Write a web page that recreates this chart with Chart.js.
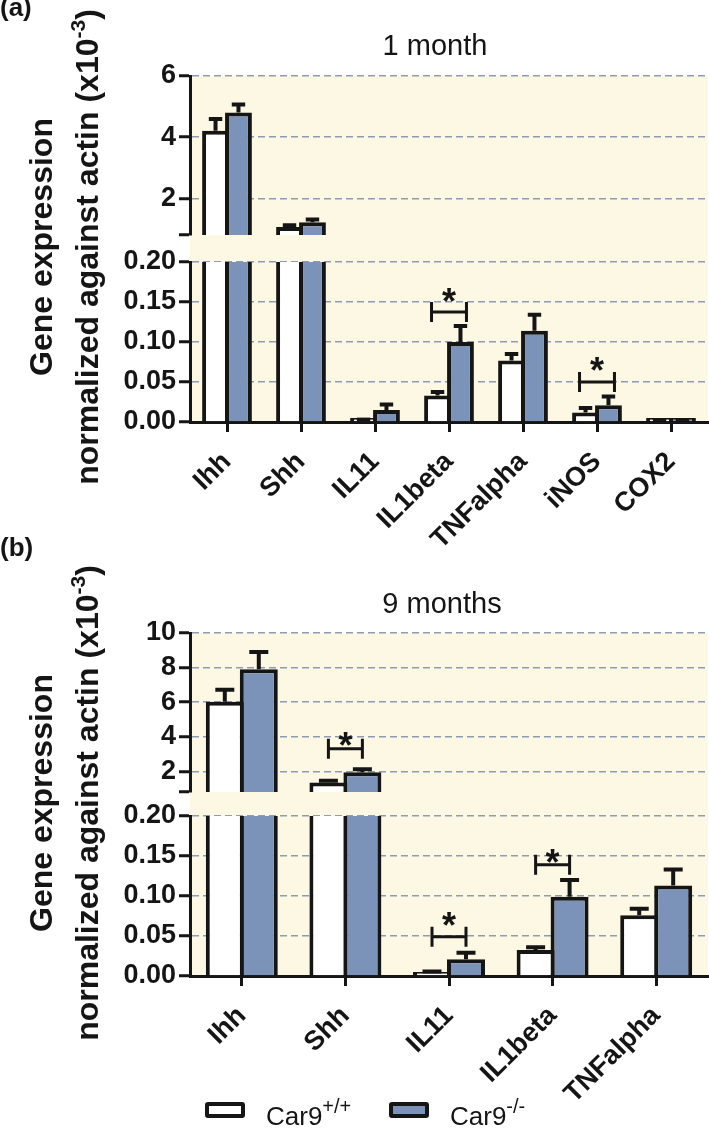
<!DOCTYPE html>
<html>
<head>
<meta charset="utf-8">
<script src="https://cdn.jsdelivr.net/npm/chart.js@4.4.1/dist/chart.umd.min.js"></script>
<style>
  body { margin: 0; background: #fff; font-family: "Liberation Sans", Arial, Helvetica, sans-serif; }
  #page { position: relative; width: 709px; height: 1131px; overflow: hidden; }
  canvas { position: absolute; left: 0; }
  .txt { position: absolute; color: #151515; white-space: nowrap; }
  .panel { font-weight: bold; font-size: 26px; line-height: 26px; }
  .title { font-size: 29px; line-height: 29px; width: 300px; text-align: center; }
  .ytitle { font-weight: bold; font-size: 32px; line-height: 46px; width: 560px; height: 92px;
            text-align: center; transform: rotate(-90deg); }
  .ytitle sup { font-size: 21px; line-height: 0; vertical-align: 13px; }
  .key { position: absolute; width: 40px; height: 16px; box-sizing: border-box;
         border: 4px solid #151515; border-radius: 3px; }
  .keytxt { font-size: 26px; line-height: 26px; }
  .keytxt sup { font-size: 20px; line-height: 0; vertical-align: 12px; }
</style>
</head>
<body>
<div id="page">
  <canvas id="chartA" width="709" height="562" style="top:0"></canvas>
  <canvas id="chartB" width="709" height="591" style="top:540px"></canvas>

  <div class="txt panel" style="left:0; top:-6px">(a)</div>
  <div class="txt panel" style="left:0; top:534px">(b)</div>
  <div class="txt title" style="left:285px; top:31px">1 month</div>
  <div class="txt title" style="left:292px; top:589px">9 months</div>
  <div class="txt ytitle" style="left:-216px; top:201px">Gene expression<br>normalized against actin (x10<sup>-3</sup>)</div>
  <div class="txt ytitle" style="left:-216px; top:757px">Gene expression<br>normalized against actin (x10<sup>-3</sup>)</div>

  <div class="key" style="left:205px; top:1102px; background:#fff"></div>
  <div class="txt keytxt" style="left:266px; top:1103px">Car9<sup>+/+</sup></div>
  <div class="key" style="left:389px; top:1102px; background:#7b93b8"></div>
  <div class="txt keytxt" style="left:450px; top:1103px">Car9<sup>-/-</sup></div>
</div>

<script>
// panel (a): 1 month
const catsA = ["Ihh", "Shh", "IL11", "IL1beta", "TNFalpha", "iNOS", "COX2"];
const wtA = [4.21, 1.06, 0.002, 0.033, 0.077, 0.012, 0.001];
const wtErrA = [0.38, 0.06, 0.001, 0.0045, 0.008, 0.0055, 0.0005];
const koA = [4.81, 1.22, 0.015, 0.100, 0.114, 0.021, 0.001];
const koErrA = [0.26, 0.09, 0.007, 0.020, 0.020, 0.011, 0.0005];
const topTicksA = [2, 4, 6];
const sigCatsA = ["IL1beta", "iNOS"];
const sigAxisA = ["yBot", "yBot"];
const sigLevelA = [0.1375, 0.05];
const starLevelA = [0.161, 0.075];

// panel (b): 9 months
const catsB = ["Ihh", "Shh", "IL11", "IL1beta", "TNFalpha"];
const wtB = [6.02, 1.35, 0.004, 0.0325, 0.076];
const wtErrB = [0.70, 0.10, 0.0015, 0.0035, 0.008];
const koB = [7.90, 1.95, 0.021, 0.099, 0.113];
const koErrB = [1.00, 0.17, 0.008, 0.021, 0.020];
const topTicksB = [2, 4, 6, 8, 10];
const sigCatsB = ["Shh", "IL11", "IL1beta"];
const sigAxisB = ["yTop", "yBot", "yBot"];
const sigLevelB = [3.3, 0.049, 0.139];
const starLevelB = [4.0, 0.074, 0.153];

// lower segment of the broken axis
const lowTicks = [0, 0.05, 0.10, 0.15, 0.20];
const breakAt = 0.8;

const ink = "#151515";
const blue = "#7b93b8";
const cream = "#fdf8e3";
const dashColor = "#8e9cb3";
const fontFam = '"Liberation Sans", Arial, Helvetica, sans-serif';

Chart.defaults.font.family = fontFam;
Chart.defaults.color = ink;

const panelBg = {
  id: "panelBg",
  beforeDraw(chart) {
    const {ctx, chartArea: a} = chart;
    ctx.save();
    ctx.fillStyle = cream;
    ctx.fillRect(a.left, a.top, a.width, a.height);
    ctx.restore();
  }
};

// each dataset only shows inside its own axis segment, error bars drawn on top
const segmentClip = {
  id: "segmentClip",
  beforeDatasetDraw(chart, args) {
    const ys = chart.scales[args.meta.yAxisID];
    const a = chart.chartArea;
    const ctx = chart.ctx;
    ctx.save();
    ctx.beginPath();
    ctx.rect(a.left, ys.top, a.width, ys.bottom - ys.top);
    ctx.clip();
  },
  afterDatasetDraw(chart, args) {
    const ctx = chart.ctx;
    const ds = chart.data.datasets[args.index];
    const ys = chart.scales[args.meta.yAxisID];
    ctx.strokeStyle = ink;
    ctx.lineWidth = 4;
    args.meta.data.forEach((bar, i) => {
      const v = ds.data[i], e = ds.errors[i];
      if (v == null || !e) return;
      const yErr = ys.getPixelForValue(v + e);
      const half = bar.width / 4;
      ctx.beginPath();
      ctx.moveTo(bar.x, Math.max(bar.y, yErr));
      ctx.lineTo(bar.x, yErr);
      ctx.moveTo(bar.x - half, yErr);
      ctx.lineTo(bar.x + half, yErr);
      ctx.stroke();
    });
    ctx.restore();
  }
};

function sigMarks(cats, axes, levels, stars, spread) {
  return {
    id: "sigMarks",
    afterDatasetsDraw(chart) {
      const ctx = chart.ctx;
      const wt = chart.getDatasetMeta(0), ko = chart.getDatasetMeta(1);
      cats.forEach((c, k) => {
        const i = chart.data.labels.indexOf(c);
        const ys = chart.scales[axes[k]];
        const y = ys.getPixelForValue(levels[k]);
        const x1 = wt.data[i].x - spread, x2 = ko.data[i].x + spread;
        ctx.save();
        ctx.strokeStyle = ink;
        ctx.lineWidth = 3;
        ctx.beginPath();
        ctx.moveTo(x1, y); ctx.lineTo(x2, y);
        ctx.moveTo(x1, y - 10); ctx.lineTo(x1, y + 10);
        ctx.moveTo(x2, y - 10); ctx.lineTo(x2, y + 10);
        ctx.stroke();
        ctx.fillStyle = ink;
        ctx.font = "bold 36px " + fontFam;
        ctx.textAlign = "center";
        ctx.textBaseline = "alphabetic";
        ctx.fillText("*", (x1 + x2) / 2, ys.getPixelForValue(stars[k]) + 21);
        ctx.restore();
      });
    }
  };
}

function makePanel(id, cats, wt, wtErr, ko, koErr, topTicks, sig, lay) {
  const bars = (label, data, errors, fill, axis, stack, minLen) => ({
    label, data, errors, yAxisID: axis, stack,
    backgroundColor: fill, borderColor: ink, borderWidth: 4,
    borderSkipped: "start", minBarLength: minLen,
    barPercentage: lay.barPct, categoryPercentage: lay.catPct
  });
  const yCommon = {
    type: "linear", position: "left", stack: "y", stacked: false,
    ticks: {font: {size: 27, weight: "bold"}, color: ink, padding: 3, autoSkip: false},
    border: {display: true, color: ink, width: 3, dash: [7, 4]},
    afterFit(s) { s.width = 190; }
  };
  const gridFor = (hideVal) => ({
    color: c => (c.tick && c.tick.value === hideVal ? "rgba(0,0,0,0)" : dashColor),
    lineWidth: 1.5, tickColor: ink, tickWidth: 3, tickLength: 11
  });
  const topMax = topTicks[topTicks.length - 1];

  return new Chart(document.getElementById(id), {
    type: "bar",
    data: {
      labels: cats,
      datasets: [
        bars("Car9+/+", wt, wtErr, "#ffffff", "yTop", "wt", 0),
        bars("Car9-/-", ko, koErr, blue, "yTop", "ko", 0),
        bars("Car9+/+", wt, wtErr, "#ffffff", "yBot", "wt", 4),
        bars("Car9-/-", ko, koErr, blue, "yBot", "ko", 4)
      ]
    },
    options: {
      responsive: false,
      animation: false,
      devicePixelRatio: 1,
      layout: {padding: {top: lay.padTop, left: 0, right: 1, bottom: 0}},
      plugins: {legend: {display: false}, tooltip: {enabled: false}},
      scales: {
        x: {
          type: "category", position: "bottom", offset: true,
          grid: {display: true, drawOnChartArea: false, drawTicks: true, tickLength: 10,
                 tickWidth: 3, tickColor: ink, offset: false},
          border: {display: true, color: ink, width: 3},
          ticks: {font: {size: 27, weight: "bold"}, color: ink, minRotation: 45, maxRotation: 45,
                  padding: 14, autoSkip: false},
          afterFit(s) { s.height = lay.xHeight; }
        },
        yBot: Object.assign({}, yCommon, {
          weight: 1, stackWeight: lay.wBot, min: 0, max: lowTicks[lowTicks.length - 1],
          afterBuildTicks(s) { s.ticks = lowTicks.map(v => ({value: v})); },
          ticks: Object.assign({}, yCommon.ticks, {callback: v => v.toFixed(2)}),
          grid: gridFor(0)
        }),
        yGap: {
          type: "linear", position: "left", stack: "y", weight: 2, stackWeight: lay.wGap,
          min: 0, max: 1, ticks: {display: false}, grid: {display: false}, border: {display: false}
        },
        yTop: Object.assign({}, yCommon, {
          weight: 3, stackWeight: lay.wTop, min: breakAt, max: topMax,
          afterBuildTicks(s) { s.ticks = [breakAt].concat(topTicks).map(v => ({value: v})); },
          ticks: Object.assign({}, yCommon.ticks, {callback: v => (v === breakAt ? "" : v)}),
          grid: gridFor(breakAt)
        })
      }
    },
    plugins: [panelBg, segmentClip, sig]
  });
}

makePanel("chartA", catsA, wtA, wtErrA, koA, koErrA, topTicksA,
  sigMarks(sigCatsA, sigAxisA, sigLevelA, starLevelA, 6),
  {padTop: 76, xHeight: 140, wTop: 159, wGap: 27, wBot: 160, catPct: 0.62, barPct: 1.17});

makePanel("chartB", catsB, wtB, wtErrB, koB, koErrB, topTicksB,
  sigMarks(sigCatsB, sigAxisB, sigLevelB, starLevelB, 0),
  {padTop: 93, xHeight: 155, wTop: 159, wGap: 24, wBot: 160, catPct: 0.656, barPct: 1.118});
</script>
</body>
</html>
